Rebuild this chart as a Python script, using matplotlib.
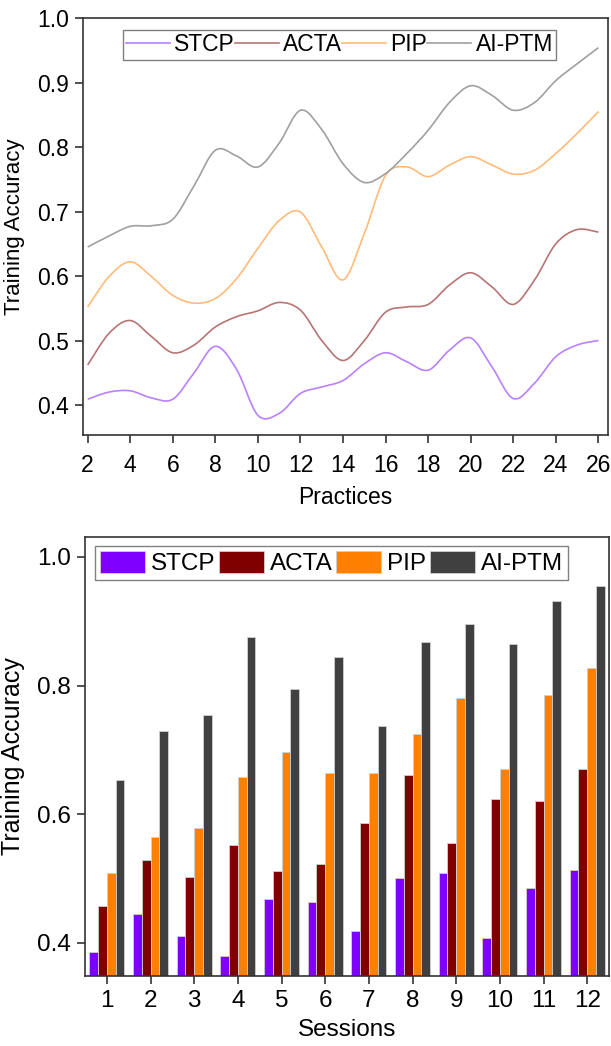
import numpy as np
import matplotlib
matplotlib.use('Agg')
import matplotlib.pyplot as plt
from matplotlib.path import Path
from matplotlib.patches import PathPatch
from matplotlib.lines import Line2D

# data
methods = ['STCP', 'ACTA', 'PIP', 'AI-PTM']

practices = [2, 3, 4, 5, 6, 7, 8, 9, 10, 11, 12, 13, 14,
             15, 16, 17, 18, 19, 20, 21, 22, 23, 24, 25, 26]
stcp_line = [0.409, 0.420, 0.422, 0.411, 0.409, 0.450, 0.491, 0.455, 0.384, 0.387, 0.418, 0.428, 0.438,
             0.464, 0.481, 0.467, 0.454, 0.485, 0.504, 0.459, 0.410, 0.434, 0.475, 0.493, 0.500]
acta_line = [0.462, 0.511, 0.531, 0.506, 0.481, 0.493, 0.521, 0.537, 0.546, 0.559, 0.547, 0.500, 0.469,
             0.500, 0.544, 0.552, 0.556, 0.586, 0.605, 0.583, 0.556, 0.594, 0.650, 0.672, 0.668]
pip_line = [0.552, 0.599, 0.622, 0.599, 0.570, 0.558, 0.565, 0.596, 0.643, 0.686, 0.699, 0.645, 0.594,
            0.666, 0.756, 0.769, 0.754, 0.772, 0.785, 0.772, 0.758, 0.764, 0.790, 0.821, 0.855]
aiptm_line = [0.645, 0.662, 0.677, 0.678, 0.688, 0.740, 0.795, 0.786, 0.769, 0.806, 0.857, 0.827, 0.774,
              0.745, 0.759, 0.790, 0.826, 0.869, 0.895, 0.880, 0.857, 0.869, 0.903, 0.929, 0.954]

sessions = [1, 2, 3, 4, 5, 6, 7, 8, 9, 10, 11, 12]
stcp_bar = [0.386, 0.445, 0.411, 0.380, 0.468, 0.464, 0.419, 0.501, 0.508, 0.407, 0.486, 0.513]
acta_bar = [0.458, 0.529, 0.502, 0.552, 0.511, 0.523, 0.587, 0.661, 0.556, 0.623, 0.620, 0.670]
pip_bar = [0.508, 0.565, 0.578, 0.658, 0.697, 0.664, 0.664, 0.724, 0.781, 0.671, 0.786, 0.828]
aiptm_bar = [0.654, 0.729, 0.755, 0.876, 0.795, 0.844, 0.737, 0.868, 0.895, 0.865, 0.932, 0.955]

bar_colors = ['#8000ff', '#800000', '#ff8000', '#404040']
line_colors = ['#b980ff', '#b87474', '#ffbb7a', '#a0a0a0']

plt.rcParams['font.family'] = ['Liberation Sans', 'DejaVu Sans']
plt.rcParams['axes.edgecolor'] = '#333333'
plt.rcParams['axes.linewidth'] = 1.2


def smooth_path(xs, ys):
    # catmull-rom through the read points, drawn as bezier curves by matplotlib
    pts = np.column_stack([xs, ys]).astype(float)
    ext = np.vstack([pts[0], pts, pts[-1]])
    verts = [pts[0]]
    codes = [Path.MOVETO]
    for i in range(len(pts) - 1):
        p0, p1, p2, p3 = ext[i], ext[i + 1], ext[i + 2], ext[i + 3]
        verts += [p1 + (p2 - p0) / 6, p2 - (p3 - p1) / 6, p2]
        codes += [Path.CURVE4] * 3
    return Path(verts, codes)


def style_axes(ax, fs, pad):
    ax.tick_params(direction='out', length=6, width=1.2, color='#333333',
                   labelsize=fs, top=False, right=False, pad=4)
    ax.tick_params(axis='x', pad=pad)


fig = plt.figure(figsize=(6.11, 10.46), dpi=100)

# ---- top: smoothed lines ----
ax1 = fig.add_axes([83 / 611, 1 - 435 / 1046, 525 / 611, 417 / 1046])
series = [stcp_line, acta_line, pip_line, aiptm_line]
for vals, c in zip(series, line_colors):
    ax1.add_patch(PathPatch(smooth_path(practices, vals), fill=False, edgecolor=c, lw=1.2))
ax1.set_xlim(1.78, 26.45)
ax1.set_ylim(0.3535, 1.0)
ax1.set_xticks(range(2, 27, 2))
ax1.set_yticks([0.4, 0.5, 0.6, 0.7, 0.8, 0.9, 1.0])
ax1.set_yticklabels(['%.1f' % v for v in [0.4, 0.5, 0.6, 0.7, 0.8, 0.9, 1.0]])
style_axes(ax1, 16.5, 8)
ax1.set_xlabel('Practices', fontsize=16.5, labelpad=6)
ax1.set_ylabel('Training Accuracy', fontsize=16)
ax1.yaxis.set_label_coords(-58 / 525, 0.5)
handles = [Line2D([], [], color=c, lw=1.2) for c in line_colors]
ax1.legend(handles, methods, ncol=4, loc='upper left', bbox_to_anchor=(0.076, 0.972),
           fontsize=16.5, frameon=True, fancybox=False, edgecolor='#808080', framealpha=1,
           borderpad=0.15, handlelength=1.9, handletextpad=0.2, columnspacing=0.0,
           borderaxespad=0)

# ---- bottom: grouped bars ----
ax2 = fig.add_axes([85 / 611, 1 - 975.7 / 1046, 524 / 611, 438.7 / 1046])
x = np.array(sessions)
w = 0.2
bars = [stcp_bar, acta_bar, pip_bar, aiptm_bar]
for k, (vals, c, name) in enumerate(zip(bars, bar_colors, methods)):
    ax2.bar(x + (k - 1.5) * w, vals, width=w, color=c, edgecolor='#cfcfcf',
            linewidth=0.6, label=name)
ax2.set_xlim(0.5, 12.5)
ax2.set_ylim(0.349, 1.031)
ax2.set_xticks(sessions)
ax2.set_yticks([0.4, 0.6, 0.8, 1.0])
ax2.set_yticklabels(['%.1f' % v for v in [0.4, 0.6, 0.8, 1.0]])
style_axes(ax2, 17.5, 4)
ax2.set_xlabel('Sessions', fontsize=17.5, labelpad=5)
ax2.set_ylabel('Training Accuracy', fontsize=18)
ax2.yaxis.set_label_coords(-60 / 524, 0.5)
ax2.legend(ncol=4, loc='upper left', bbox_to_anchor=(0.019, 0.9795), fontsize=17.5,
           frameon=True, fancybox=False, edgecolor='#808080', framealpha=1,
           borderpad=0.2, handlelength=1.85, handleheight=1.05, handletextpad=0.25,
           columnspacing=0.15, borderaxespad=0)

fig.savefig('out.png', dpi=100)
